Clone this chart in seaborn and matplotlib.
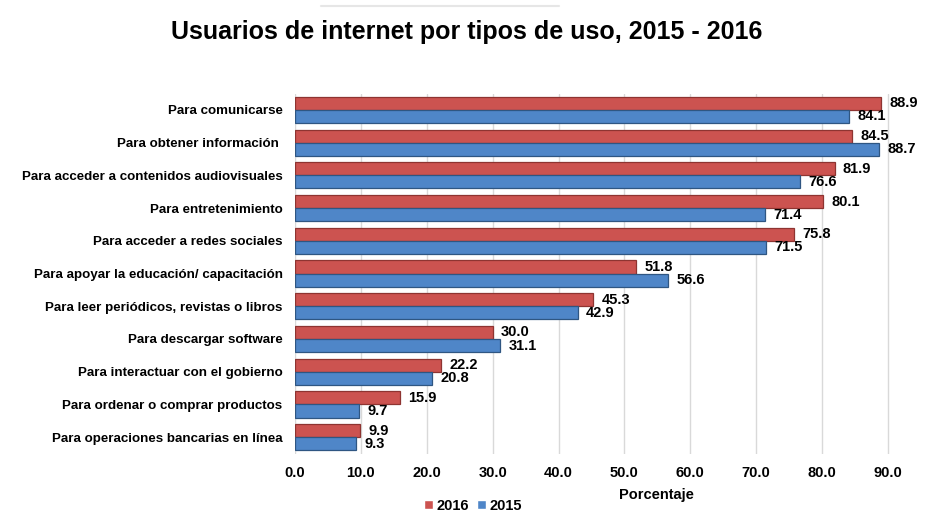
import matplotlib
matplotlib.use("Agg")
import matplotlib.pyplot as plt
import seaborn as sns
import pandas as pd
from matplotlib.patches import Patch
from matplotlib.lines import Line2D

categories = [
    "Para comunicarse",
    "Para obtener información ",
    "Para acceder a contenidos audiovisuales",
    "Para entretenimiento",
    "Para acceder a redes sociales",
    "Para apoyar la educación/ capacitación",
    "Para leer periódicos, revistas o libros",
    "Para descargar software",
    "Para interactuar con el gobierno",
    "Para ordenar o comprar productos",
    "Para operaciones bancarias en línea",
]
values_2016 = [88.9, 84.5, 81.9, 80.1, 75.8, 51.8, 45.3, 30.0, 22.2, 15.9, 9.9]
values_2015 = [84.1, 88.7, 76.6, 71.4, 71.5, 56.6, 42.9, 31.1, 20.8, 9.7, 9.3]
years = ["2016", "2015"]
xticks = [0, 10, 20, 30, 40, 50, 60, 70, 80, 90]

df = pd.DataFrame({
    "cat": categories * 2,
    "year": [years[0]] * len(categories) + [years[1]] * len(categories),
    "val": values_2016 + values_2015,
})

sns.set_style("white")
plt.rcParams["font.family"] = ["Liberation Sans", "DejaVu Sans"]
plt.rcParams["text.color"] = "black"
plt.rcParams["xtick.color"] = "black"
plt.rcParams["ytick.color"] = "black"
plt.rcParams["axes.labelcolor"] = "black"

fig = plt.figure(figsize=(9.46, 5.21), dpi=100)
ax = fig.add_axes([295 / 946, 1 - 453.5 / 521, (888 - 295) / 946 * (92 / 90), (453.5 - 93.5) / 521])

red = "#CC5350"
blue = "#4F86C8"
sns.barplot(data=df, y="cat", x="val", hue="year", hue_order=years, order=categories,
            palette=[red, blue], saturation=1, orient="h", width=0.8, ax=ax, legend=False,
            linewidth=0)

edge = {"2016": "#8E3431", "2015": "#2F5682"}
for container, yr in zip(ax.containers, years):
    for p in container:
        p.set_edgecolor(edge[yr])
        p.set_linewidth(0.9)
    ax.bar_label(container, fmt="%.1f", padding=6, fontsize=10.5, fontweight="bold",
                 color="black")

ax.set_xlim(0, 92)
ax.set_xticks(xticks)
ax.set_xticklabels([f"{t:.1f}" for t in xticks], fontsize=10.5, fontweight="bold")
ax.tick_params(axis="x", length=0, pad=9)
ax.tick_params(axis="y", length=0, pad=9)
for lab in ax.get_yticklabels():
    lab.set_fontsize(9.6)
    lab.set_fontweight("bold")
ax.set_ylabel("")
ax.set_xlabel("Porcentaje", fontsize=10.5, fontweight="bold")
ax.xaxis.set_label_coords((656 - 295) / ((888 - 295) * 92 / 90), -0.095)
ax.xaxis.grid(True, color="#D9D9D9", linewidth=1)
ax.set_axisbelow(True)
for s in ax.spines.values():
    s.set_visible(False)

fig.suptitle("Usuarios de internet por tipos de uso, 2015 - 2016", x=467 / 946, y=1 - 19.5 / 521,
             fontsize=18, fontweight="bold", color="black", va="top")

fig.add_artist(Line2D([321 / 946, 559 / 946], [1 - 6 / 521, 1 - 6 / 521], color="#E6E6E6", lw=1.5))

handles = [Patch(facecolor=red), Patch(facecolor=blue)]
fig.legend(handles, years, loc="center", bbox_to_anchor=(473 / 946, 1 - 506 / 521), ncol=2,
           frameon=False, handlelength=0.6, handleheight=0.6, handletextpad=0.2, columnspacing=0.6,
           prop={"weight": "bold", "size": 10.5})

fig.savefig("out.png", dpi=100, facecolor="white")
